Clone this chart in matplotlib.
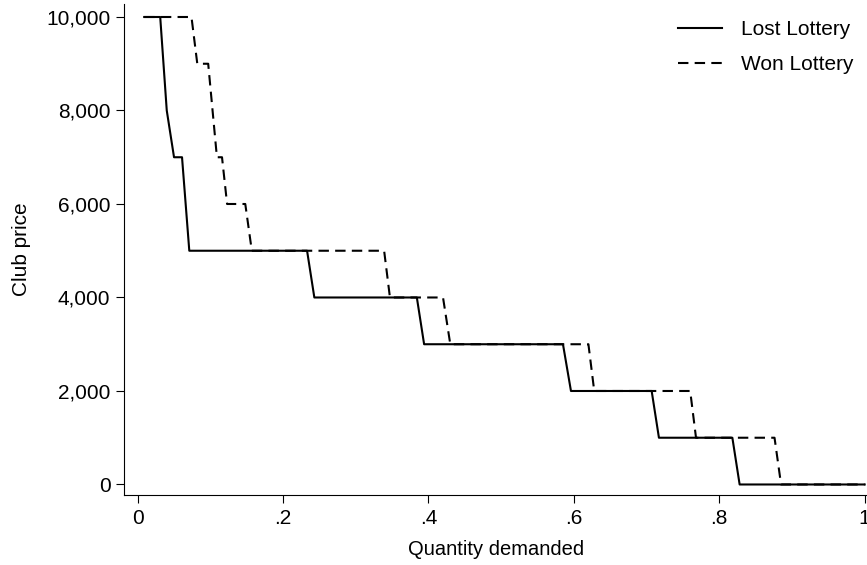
import matplotlib
matplotlib.use("Agg")
import matplotlib.pyplot as plt
from matplotlib.ticker import FuncFormatter

plt.rcParams['font.family'] = ['Liberation Sans', 'DejaVu Sans']

# Lost Lottery (solid)
lost_q = [0.009, 0.031, 0.040, 0.050, 0.061, 0.071, 0.233, 0.243, 0.384, 0.394,
          0.585, 0.596, 0.707, 0.717, 0.818, 0.828, 1.0]
lost_p = [10000, 10000, 8000, 7000, 7000, 5000, 5000, 4000, 4000, 3000,
          3000, 2000, 2000, 1000, 1000, 0, 0]

# Won Lottery (dashed)
won_q = [0.009, 0.074, 0.082, 0.097, 0.109, 0.116, 0.123, 0.148, 0.157,
         0.339, 0.347, 0.420, 0.430, 0.620, 0.628, 0.760, 0.768,
         0.876, 0.885, 1.0]
won_p = [10000, 10000, 9000, 9000, 7000, 7000, 6000, 6000, 5000,
         5000, 4000, 4000, 3000, 3000, 2000, 2000, 1000,
         1000, 0, 0]

xticks = [0, 0.2, 0.4, 0.6, 0.8, 1.0]
xticklabels = ["0", ".2", ".4", ".6", ".8", "1"]
yticks = [0, 2000, 4000, 6000, 8000, 10000]

W, H = 867, 565
fig = plt.figure(figsize=(W / 100, H / 100), dpi=100)
left, right, top, bottom = 124.3, 867, 4, 495
ax = fig.add_axes([left / W, 1 - bottom / H, (right - left) / W, (bottom - top) / H])

ax.plot(lost_q, lost_p, color='black', lw=1.5, label='Lost Lottery')
ax.plot(won_q, won_p, color='black', lw=1.5, dashes=(5, 3), label='Won Lottery')

ax.set_xlim(-0.0184, 1.0032)
ax.set_ylim(-225, 10278)
ax.set_xticks(xticks)
ax.set_xticklabels(xticklabels)
ax.set_yticks(yticks)
ax.yaxis.set_major_formatter(FuncFormatter(lambda v, p: f"{int(v):,}"))
ax.tick_params(direction='out', length=5.5, width=0.8, labelsize=15, pad=4.5)
for s in ['top', 'right']:
    ax.spines[s].set_visible(False)
for s in ['left', 'bottom']:
    ax.spines[s].set_linewidth(0.8)

ax.set_xlabel('Quantity demanded', fontsize=14.5, labelpad=9)
ax.set_ylabel('Club price', fontsize=15, labelpad=11)

leg = ax.legend(loc='upper right', frameon=False, fontsize=15, handlelength=2.1,
                handletextpad=0.9, labelspacing=0.75, borderaxespad=0.0,
                bbox_to_anchor=(0.993, 0.984))

fig.savefig('out.png', dpi=100)
